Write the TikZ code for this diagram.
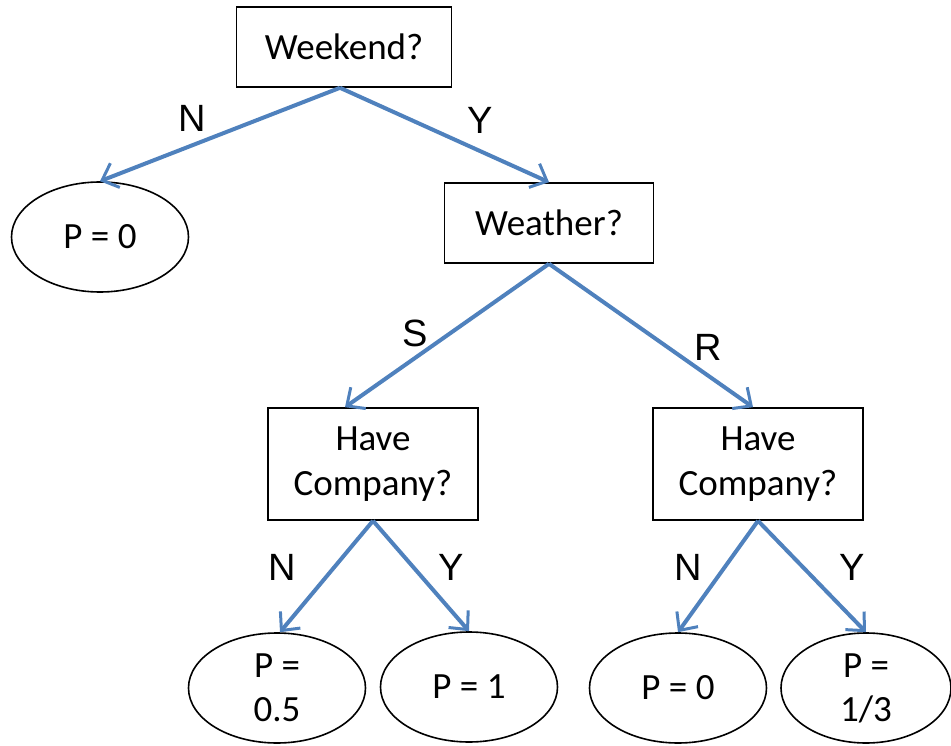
\documentclass[tikz,border=0pt]{standalone}
\usepackage{fontspec}
\setmainfont{Carlito}
\newfontfamily\edgefont{Liberation Sans}
\usetikzlibrary{positioning, calc, shapes.geometric, arrows.meta}
\definecolor{edgeblue}{RGB}{79,129,189}

\begin{document}
\begin{tikzpicture}[x=1pt, y=-1pt,
    test/.style={rectangle, draw, line width=1.6pt, inner sep=0pt, align=center,
      font=\fontsize{37}{45}\selectfont},
    leaf/.style={ellipse, draw, line width=1.6pt, inner sep=0pt, align=center,
      minimum width=177, minimum height=110, font=\fontsize{37}{44}\selectfont},
    answer/.style={font=\edgefont\fontsize{38}{40}\selectfont},
    >={Straight Barb[length=14pt, width=26pt, line width=3pt]}]

  \useasboundingbox (0,0) rectangle (951,746);

  \node[test, minimum width=215, minimum height=80] (weekend) at (344,47) {Weekend?};
  \node[test, minimum width=209, minimum height=80] (weather) at (549,223) {Weather?};
  \node[test, minimum width=210, minimum height=112] (compS) at (373,464) {Have\\Company?};
  \node[test, minimum width=210, minimum height=112] (compR) at (758,464) {Have\\Company?};

  \node[leaf] (noWeekend) at (100,237) {P = 0};
  \node[leaf] (sunNo) at (277,688) {P =\\0.5};
  \node[leaf] (sunYes) at (469,687) {P = 1};
  \node[leaf] (rainNo) at (678,688) {P = 0};
  \node[leaf, minimum width=170] (rainYes) at (866,688) {P =\\1/3};

  \node[answer] (lblN) at (192,118) {N};
  \node[answer] (lblY) at (480,120) {Y};
  \node[answer] (lblS) at (415,333) {S};
  \node[answer] (lblR) at (708,347) {R};
  \node[answer] (lblSN) at (282,567) {N};
  \node[answer] (lblSY) at (451,567) {Y};
  \node[answer] (lblRN) at (688,567) {N};
  \node[answer] (lblRY) at (852,567) {Y};

  \begin{scope}[->, edgeblue, line width=4pt]
    \draw ([xshift=-4]weekend.south) -- (noWeekend.north);
    \draw ([xshift=-4]weekend.south) -- (weather.north);
    \draw (weather.south) -- ($(compS.north)+(-28,0)$);
    \draw (weather.south) -- ($(compR.north)+(-5,0)$);
    \draw (compS.south) -- ([xshift=3]sunNo.north);
    \draw (compS.south) -- (sunYes.north);
    \draw (compR.south) -- (rainNo.north);
    \draw (compR.south) -- (rainYes.north);
  \end{scope}
\end{tikzpicture}
\end{document}
